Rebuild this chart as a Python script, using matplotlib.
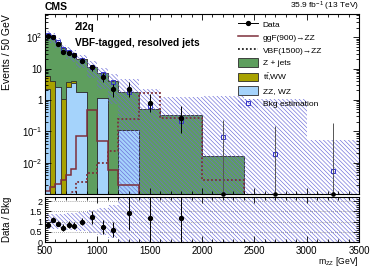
import numpy as np
import matplotlib
matplotlib.use("Agg")
import matplotlib.pyplot as plt
from matplotlib.lines import Line2D
from matplotlib.patches import Patch
from matplotlib.ticker import FixedLocator, MultipleLocator, LogLocator, FuncFormatter, NullFormatter

plt.rcParams['font.family'] = ['Liberation Sans', 'DejaVu Sans']
plt.rcParams['mathtext.fontset'] = 'custom'
plt.rcParams['mathtext.rm'] = 'Liberation Sans'
plt.rcParams['mathtext.it'] = 'Liberation Sans:italic'
plt.rcParams['mathtext.bf'] = 'Liberation Sans:bold'
plt.rcParams['hatch.linewidth'] = 0.45

# ---------------- data ----------------
edges = [500, 550, 600, 650, 700, 750, 800, 900, 1000, 1100, 1200, 1400, 1600, 2000, 2400, 3000, 3500]
zjets = [114, 96, 67.5, 44, 32.4, 27.1, 18.2, 11.5, 6.05, 3.9, 1.69, 0.52, 0.33, 0.0166, 0, 0]
ttww = [3.4, 3.9, 0, 1.07, 1.1, 0.5, 0, 0, 0, 0, 0, 0, 0, 0, 0, 0]
zzwz = [2.2, 0, 2.5, 0, 2.5, 3.4, 1.8, 0, 1.15, 0, 0.107, 0, 0, 0, 0, 0]
bkg_est = [116, 100, 70, 42, 34, 27, 19, 11.5, 6.5, 3.6, 1.8, 0.65, 0.22, 0.065, 0.019, 0.0056]
bkg_rel_unc = [0.35, 0.35, 0.35, 0.35, 0.4, 0.4, 0.45, 0.55, 0.65, 0.8, 1.5, 2.4, 4.6, 19, 57, 8.3]
ggf900 = [1.25e-3, 1.66e-3, 2.1e-3, 2.7e-3, 3.9e-3, 6.5e-3, 0.07, 0.49, 0.049, 6e-3, 1.9e-3, 0, 0, 0, 0, 0]
vbf1500 = [0, 0, 0, 0, 0, 1.2e-3, 2.5e-3, 4.8e-3, 0.01, 0.023, 0.25, 1.65, 0.27, 2.9e-3, 0, 0]
data = [110, 100, 60, 34, 32, 27, 18, 11, 5.2, 2.2, 2.3, 0.8, 0.27, 0, 0, 0]
data_err_lo = [10.5, 10, 7.7, 5.8, 5.7, 5.2, 3.0, 2.4, 1.5, 1.0, 1.05, 0.38, 0.18, 0, 0, 0]
data_err_hi = [10.5, 10, 7.7, 5.8, 5.7, 5.2, 3.0, 2.4, 2.2, 1.1, 1.3, 0.7, 0.38, 0.23, 0.15, 0.18]
ratio = [0.85, 1.1, 0.9, 0.7, 0.85, 0.8, 1.0, 1.2, 0.75, 0.6, 1.4, 1.15, 1.15, np.nan, np.nan, np.nan]
ratio_err = [0.12, 0.12, 0.14, 0.16, 0.17, 0.18, 0.18, 0.3, 0.35, 0.37, 0.8, 1.2, 1.3, 0, 0, 0]

labels = ["Data", "ggF(900)\u2192ZZ", "VBF(1500)\u2192ZZ", "Z + jets",
          r"t$\bar{\mathrm{t}}$,WW", "ZZ, WZ", "Bkg estimation"]

# ---------------- styles ----------------
c_green = '#5e9e5e'
c_olive = '#a8a200'
c_blue = '#a5d3fb'
c_sig = '#7d2f3a'
c_hatch = '#6a6ad8'
c_edge = '#2b2b2b'
HATCH = '\\' * 8
floor = 1e-5
ymin, ymax = 1e-3, 550

E = np.array(edges, float)
cent = 0.5 * (E[1:] + E[:-1])
zj = np.array(zjets); tt = np.array(ttww); zz = np.array(zzwz)
est = np.array(bkg_est); rel = np.array(bkg_rel_unc)
d = np.array(data)

fig = plt.figure(figsize=(3.74, 2.68), dpi=100)
ax = fig.add_axes([45/374, 1-194/268, 314/374, 180/268])
axr = fig.add_axes([45/374, 1-242/268, 314/374, 45/268], sharex=ax)

ax.set_yscale('log')
ax.set_xlim(500, 3500)
ax.set_ylim(ymin, ymax)

def fl(v):
    v = np.asarray(v, float)
    return np.where(v > 0, v, floor)

# stacked backgrounds: ZZ at bottom, tt above, Z+jets on top
ax.stairs(fl(zz + tt + zj), E, baseline=floor, fill=True, facecolor=c_green, edgecolor=c_edge, linewidth=0.6)
ax.stairs(fl(zz + tt), E, baseline=floor, fill=True, facecolor=c_olive, edgecolor=c_edge, linewidth=0.6)
ax.stairs(fl(zz), E, baseline=floor, fill=True, facecolor=c_blue, edgecolor=c_edge, linewidth=0.6)

# uncertainty band
up = est * (1 + rel)
lo = np.maximum(est * (1 - rel), floor)
ax.stairs(up, E, baseline=lo, fill=True, facecolor='none', edgecolor=c_hatch, hatch=HATCH, linewidth=0)

# signals
ax.stairs(fl(ggf900), E, baseline=None, color=c_sig, linewidth=1.1)
ax.stairs(fl(vbf1500), E, baseline=None, color=c_sig, linewidth=1.3, linestyle=(0, (1, 1.2)))

# bkg estimation markers
ax.plot(cent, est, 's', ms=3.0, mfc='none', mec='#3434c8', mew=0.7, zorder=5)

# data
nz = d > 0
ax.errorbar(cent[nz], d[nz], yerr=[np.array(data_err_lo)[nz], np.array(data_err_hi)[nz]],
            fmt='o', color='k', ms=2.8, elinewidth=0.7, capsize=0, zorder=6)
ax.errorbar(cent[~nz], np.full((~nz).sum(), ymin), yerr=[np.zeros((~nz).sum()), np.array(data_err_hi)[~nz]],
            fmt='o', color='k', ms=2.3, elinewidth=0.7, ecolor='#555555', capsize=0, zorder=6, clip_on=False)

# ---- ratio ----
rup = np.minimum(1 + rel, 5)
rlo = np.maximum(1 - rel, 0)
axr.stairs(rup, E, baseline=rlo, fill=True, facecolor='none', edgecolor=c_hatch, hatch=HATCH, linewidth=0)
for yv in [0.5, 1.0, 1.5, 2.0]:
    axr.axhline(yv, color='#888888', lw=0.6, ls=(0, (1, 1.5)), zorder=1)
r = np.array(ratio); re = np.array(ratio_err)
ok = ~np.isnan(r)
axr.errorbar(cent[ok], r[ok], yerr=re[ok], fmt='o', color='k', ms=2.8, elinewidth=0.7, capsize=0, zorder=6)
axr.set_ylim(0, 2.2)

# ---- axes styling ----
for a in (ax, axr):
    a.tick_params(which='both', direction='in', top=True, right=True, labelsize=7, width=0.6, pad=2)
    a.tick_params(which='major', length=4.5)
    a.tick_params(which='minor', length=2.3)
    for s in a.spines.values():
        s.set_linewidth(0.8)
axr.tick_params(axis='x', which='major', pad=3.0)
ax.xaxis.set_major_locator(MultipleLocator(500))
ax.xaxis.set_minor_locator(MultipleLocator(100))
ax.tick_params(labelbottom=False)
ax.yaxis.set_major_locator(FixedLocator([1e-2, 1e-1, 1, 10, 100]))
ax.yaxis.set_minor_locator(LogLocator(base=10, subs=np.arange(2, 10), numticks=20))
ax.yaxis.set_minor_formatter(NullFormatter())

def yfmt(v, pos):
    if abs(v - 1) < 1e-9:
        return '1'
    if abs(v - 10) < 1e-9:
        return '10'
    e = int(round(np.log10(v)))
    return r'$10^{%d}$' % e
ax.yaxis.set_major_formatter(FuncFormatter(yfmt))

axr.yaxis.set_major_locator(FixedLocator([0, 0.5, 1, 1.5, 2]))
axr.yaxis.set_minor_locator(MultipleLocator(0.1))
axr.yaxis.set_major_formatter(FuncFormatter(lambda v, p: '%g' % v))
axr.xaxis.set_major_formatter(FuncFormatter(lambda v, p: '%d' % v))
axr.tick_params(axis='y', labelsize=6.5)

ax.set_ylabel('Events / 50 GeV', fontsize=7.5, loc='top')
ax.yaxis.set_label_coords(-0.105, 1.0)
axr.set_ylabel('Data / Bkg', fontsize=7)
axr.yaxis.set_label_coords(-0.105, 0.5)
axr.set_xlabel(r'm$_{\mathrm{ZZ}}$ [GeV]', fontsize=6.2, loc='right')
axr.xaxis.set_label_coords(1.0, -0.29)

# texts
ax.text(0.0, 1.012, 'CMS', transform=ax.transAxes, fontsize=7.5, fontweight='bold', ha='left', va='bottom')
ax.text(1.0, 1.008, r'35.9 fb$^{-1}$ (13 TeV)', transform=ax.transAxes, fontsize=6.0, ha='right', va='bottom')
ax.text(0.095, 0.93, '2l2q', transform=ax.transAxes, fontsize=7, fontweight='bold', ha='left', va='center')
ax.text(0.095, 0.84, 'VBF-tagged, resolved jets', transform=ax.transAxes, fontsize=7.3, fontweight='bold', ha='left', va='center')

# legend
h_data = Line2D([], [], color='k', marker='o', ms=2.8, lw=0.7)
h_ggf = Line2D([], [], color=c_sig, lw=1.1)
h_vbf = Line2D([], [], color='#222222', lw=1.3, ls=(0, (1, 1.2)))
h_zj = Patch(facecolor=c_green, edgecolor=c_edge, linewidth=0.6)
h_tt = Patch(facecolor=c_olive, edgecolor=c_edge, linewidth=0.6)
h_zz = Patch(facecolor=c_blue, edgecolor=c_edge, linewidth=0.6)
h_est = (Patch(facecolor='none', edgecolor=c_hatch, hatch=HATCH, linewidth=0),
         Line2D([], [], ls='none', marker='s', ms=3.0, mfc='none', mec='#3434c8', mew=0.7))
leg = ax.legend([h_data, h_ggf, h_vbf, h_zj, h_tt, h_zz, h_est], labels,
                loc='upper left', bbox_to_anchor=(0.6, 0.995), fontsize=6, frameon=False,
                handlelength=2.3, handleheight=1.2, labelspacing=0.45, handletextpad=0.6, borderaxespad=0.2)

fig.savefig('out.png', dpi=100)
